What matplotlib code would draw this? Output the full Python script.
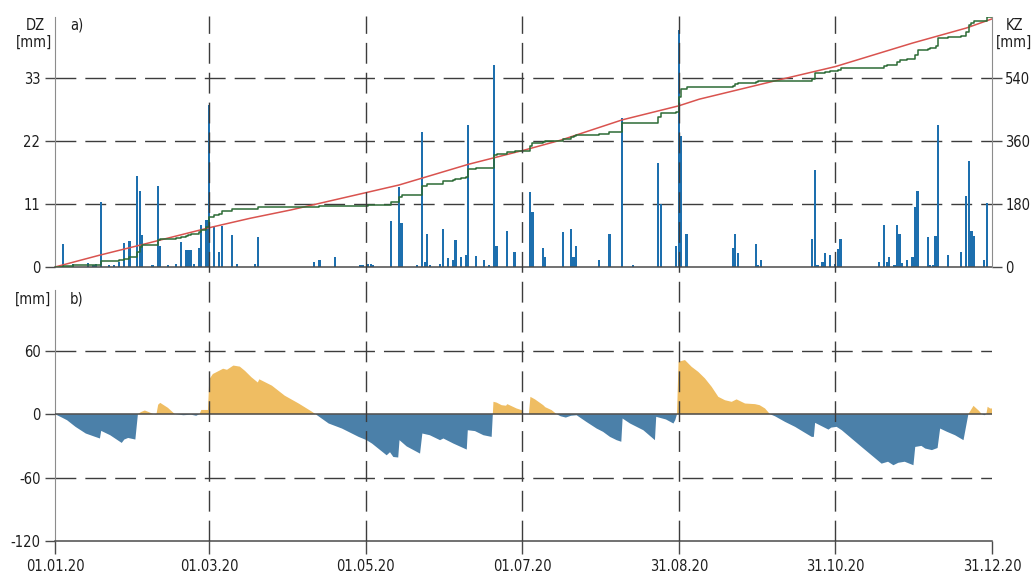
import numpy as np
import matplotlib
matplotlib.use("Agg")
import matplotlib.pyplot as plt
from matplotlib import font_manager
from matplotlib.lines import Line2D
from matplotlib.transforms import blended_transform_factory

# ---------------------------------------------------------------- data
# daily precipitation DZ (day of year, 0 = 01.01.2020) in mm
rain_day = [3, 7, 13, 15, 16, 18, 21, 23, 25, 27, 29, 32, 33, 34, 38, 40, 41, 44,
            47, 49, 51, 52, 53, 54, 56, 57, 59, 60,
            62, 64, 65, 69, 71, 78, 79,
            101, 103, 109, 119, 120, 122, 123, 124,
            131, 134, 135, 141, 143, 144, 145, 146, 150, 151, 153, 155, 156, 158,
            160, 161, 164, 167, 169, 171, 172, 176, 179,
            185, 186, 190, 191, 198, 201, 202, 203, 212, 216, 221, 225, 235, 236,
            242, 243, 244, 246,
            264, 265, 266, 273, 274, 275, 295, 296, 297, 299, 300, 302, 304, 305, 306,
            321, 323, 324, 325, 327, 328, 329, 330, 332, 334, 335, 336, 340, 341, 342,
            343, 344, 348, 353, 355, 356, 357, 358, 362, 363]
rain_mm = [4.0, 0.6, 0.7, 0.4, 0.6, 11.3, 0.3, 0.4, 0.9, 4.2, 4.6, 15.9, 13.2, 5.5, 0.3, 14.1, 3.7, 0.3,
           0.5, 4.3, 3.0, 3.0, 3.0, 0.5, 3.3, 7.3, 8.2, 28.3,
           6.9, 2.7, 7.2, 5.5, 0.5, 0.5, 5.2,
           0.8, 1.2, 1.8, 0.3, 0.3, 0.5, 0.6, 0.3,
           8.0, 14.0, 7.6, 0.4, 23.5, 0.9, 5.8, 0.3, 0.5, 6.7, 1.5, 1.2, 4.7, 1.8,
           2.1, 24.7, 1.9, 1.3, 0.3, 35.2, 3.6, 6.2, 2.7,
           13.0, 9.6, 3.4, 1.8, 6.1, 6.7, 1.8, 3.7, 1.2, 5.8, 25.9, 0.3, 18.1, 11.0,
           3.6, 41.4, 22.8, 5.8,
           3.4, 5.8, 2.4, 4.0, 0.3, 1.2, 4.9, 16.9, 0.3, 0.8, 2.4, 2.1, 0.6, 3.2, 4.8,
           0.8, 7.3, 0.8, 1.8, 0.3, 7.3, 5.8, 0.7, 1.2, 1.8, 10.5, 13.3, 5.2, 0.4, 0.4,
           5.4, 24.7, 2.1, 2.7, 12.3, 18.5, 6.2, 5.4, 1.2, 11.1]

# cumulative reference curve KZ (mm)
ref_day = [0, 17, 34, 60, 76, 92, 121, 134, 161, 183, 197, 221, 243, 251, 282, 304, 334, 355, 365]
ref_mm = [0, 33, 64, 112, 139, 163, 212, 234, 293, 334, 362, 420, 460, 479, 534, 572, 639, 682, 708]

# climatic water balance (mm)
bal_day = [0, 2.7, 4.7, 8, 12, 15.7, 17.5, 18, 21.5, 26, 27, 28.5, 31.3, 32.3,
           33.5, 35, 36.5, 38.4, 39.5, 40.2, 41, 44, 46.7, 48.5, 50, 53, 55, 56.3,
           57, 59.6, 60.1, 61.5, 65.5, 67, 69.5, 72, 74, 76.5, 79, 79.6, 84.5, 89.5,
           95, 100, 101.5,
           106.6, 111.8, 118.3, 121.4, 123.5, 129.2, 130.5, 131.8, 133.7, 134.2, 137,
           142.2, 143.1, 146, 150, 151.3, 155.2, 160.4, 160.8, 163.6, 166.9, 170.1,
           170.8, 172, 174, 175.7, 176.2, 179.8, 181.8, 182.7, 184.6, 185.2, 187,
           190.2, 191, 193.5, 195.4, 197, 199, 201, 203.2, 207, 211, 213.5, 216.2,
           218.8, 220.6, 221.1, 224, 229.2, 233.7, 234.2, 238, 240.9, 241.6, 242.3,
           242.9, 245.4, 248, 250.6, 253.2, 255.8, 258.4, 261, 263.6, 265.5, 268.8,
           272.7, 274.5, 276.6, 278.5, 280.5, 284.4, 288.3, 291.5, 294.8, 295.6,
           296.1, 298.7, 301.3, 302.4, 304.5, 306.5, 310.3, 314.2, 318.1, 322, 324.5,
           326.6, 328.5, 331, 334.4, 335.1, 337.5, 339, 341.6, 343.8, 344.8, 347.5,
           350.6, 353.9, 355.8, 357.8, 360, 361, 362, 362.8, 363.3, 364.3, 365]
bal_mm = [0, -3.2, -5.7, -12, -18.3, -21.5, -23, -15.8, -19.9, -27.2, -24, -22.5, -24, 0,
          2, 3.5, 2, 0, -0.3, 9, 10.7, 6, 0, -0.5, -1, -0.5, -1.5, 0,
          4, 4, 33, 38, 43, 42, 46, 45, 41, 35, 30, 33, 27, 17.5,
          10, 2.5, 0,
          -8.8, -13.6, -21.5, -24.6, -27.8, -38.9, -36, -40.5, -41, -24.6, -30.5,
          -37.3, -18.3, -19.9, -24.6, -23, -27.8, -33.5, -15.2, -16, -19.9, -21.5,
          11.7, 11, 8.5, 8, 9.5, 5.4, 3.8, 0, 0, 16.4, 14,
          8.5, 6.6, 3.8, 0, -2, -3.2, -1.5, -1, -7.3, -13.6, -16.7, -21.5,
          -24.6, -26.1, -4.1, -8.8, -15.2, -24.6, -2.5, -5, -8.8, -5.7, 0,
          49.6, 51.2, 44.8, 40, 33.8, 25.9, 16.4, 13.2, 11.7, 14, 10.1,
          9.5, 8.5, 5.4, 0, -2, -7.3, -12, -16.7, -21.5, -21.5,
          -8.2, -11.4, -14.6, -12.7, -12, -15.2, -23, -31, -38.9, -46.8, -45,
          -48.3, -46, -45, -48.3, -31, -30, -32.5, -34, -32, -13.6, -16.7,
          -19.9, -24.6, 0, 7.9, 3, 0, -1, 0, 7, 5.4, 5.4]

x_tick_days = [0, 60, 121, 182, 243, 304, 365]
x_tick_labels = ["01.01.20", "01.03.20", "01.05.20", "01.07.20", "31.08.20", "31.10.20", "31.12.20"]
month_lines = [60, 121, 182, 243, 304]
dz_ticks = [0, 11, 22, 33]
kz_ticks = [0, 180, 360, 540]
bal_ticks = [-120, -60, 0, 60]

# ---------------------------------------------------------------- style
# prefer a narrow sans face for the labels
fonts = font_manager.fontManager.ttflist
narrow = None
for name in ["Liberation Sans Narrow", "Arial Narrow"]:
    if any(f.name == name for f in fonts):
        narrow = name
        break
stretch = "normal"
if narrow is None:
    for name in ["DejaVu Sans", "Noto Sans", "Open Sans", "Roboto"]:
        if any(f.name == name and str(f.stretch) in ("condensed", "semi-condensed", "500", "600")
               and f.style == "normal" and str(f.weight) in ("400", "normal") for f in fonts):
            narrow = name
            stretch = "condensed"
            break
if narrow is None:
    base = "Liberation Sans"
    FS = 10.5
else:
    base = narrow
    FS = 12 if "Narrow" in narrow else 10.5
plt.rcParams["font.family"] = [base, "DejaVu Sans"]
plt.rcParams["font.stretch"] = stretch
plt.rcParams["axes.unicode_minus"] = False

BAR = "#1d6fae"
RED = "#d9534f"
GREEN = "#2c6b35"
POS = "#efbd62"
NEG = "#4b80a9"
GRID = "#3c3c3c"
SPINE_V = "#8c8c8c"
SPINE_H = "#4a4a4a"
TXT = "#1e1e1e"
DASH = (0, (15, 6.5))

W, H = 1032, 574
fig = plt.figure(figsize=(W / 100, H / 100), dpi=100)

def fx(px):
    return px / W

def fy(py):
    return 1 - py / H

L, R = 55, 992
ax_t = fig.add_axes([fx(L), fy(267), fx(R - L), (267 - 17) / H])
ax_b = fig.add_axes([fx(L), fy(541), fx(R - L), (541 - 290) / H])

# ---------------------------------------------------------------- panel a
days = np.arange(366)
daily = np.zeros(366)
daily[rain_day] = rain_mm
cum = np.cumsum(daily)

dz_top = 43.6
ax_t.set_xlim(0, 365)
ax_t.set_ylim(0, dz_top)
for v in dz_ticks[1:]:
    ax_t.axhline(v, color=GRID, lw=1.0, linestyle=DASH, zorder=1)
ax_t.bar(rain_day, rain_mm, width=0.85, color=BAR, lw=0, zorder=2)
ax_t.set_xticks([])
ax_t.set_yticks(dz_ticks)
ax_t.tick_params(axis="y", direction="out", length=7.5, width=1, color=SPINE_H,
                 labelsize=FS, labelcolor=TXT, pad=3)
ax_t.spines["top"].set_visible(False)
ax_t.spines["right"].set_visible(False)
ax_t.spines["left"].set_color(SPINE_V)
ax_t.spines["bottom"].set_color(SPINE_H)
ax_t.spines["bottom"].set_linewidth(1.1)

ax_k = ax_t.twinx()
ax_k.set_ylim(0, dz_top * 540 / 33)
ax_k.plot(ref_day, ref_mm, color=RED, lw=1.1, zorder=3)
ax_k.step(days, cum, where="post", color=GREEN, lw=1.1, zorder=4)
ax_k.set_yticks(kz_ticks)
ax_k.tick_params(axis="y", direction="out", length=7.5, width=1, color=SPINE_H,
                 labelsize=FS, labelcolor=TXT, pad=2)
for s in ["top", "left", "bottom"]:
    ax_k.spines[s].set_visible(False)
ax_k.spines["right"].set_color(SPINE_V)

fig.text(fx(35), fy(25), "DZ", ha="center", va="center", fontsize=FS, color=TXT)
fig.text(fx(34), fy(42), "[mm]", ha="center", va="center", fontsize=FS, color=TXT)
fig.text(fx(70), fy(25), "a)", ha="left", va="center", fontsize=FS, color=TXT)
fig.text(fx(1015), fy(25), "KZ", ha="center", va="center", fontsize=FS, color=TXT)
fig.text(fx(1014), fy(42), "[mm]", ha="center", va="center", fontsize=FS, color=TXT)

# ---------------------------------------------------------------- panel b
bd = np.array(bal_day)
bv = np.array(bal_mm)
ax_b.set_xlim(0, 365)
ax_b.set_ylim(-120, 117.5)
ax_b.fill_between(bd, bv, 0, where=bv >= 0, interpolate=True, color=POS, lw=0, zorder=2)
ax_b.fill_between(bd, bv, 0, where=bv <= 0, interpolate=True, color=NEG, lw=0, zorder=2)
ax_b.axhline(0, color=SPINE_H, lw=1.1, zorder=3)
for v in (60, -60):
    ax_b.axhline(v, color=GRID, lw=1.0, linestyle=DASH, zorder=1)
ax_b.set_yticks(bal_ticks)
ax_b.set_xticks(x_tick_days, x_tick_labels)
ax_b.tick_params(axis="y", direction="out", length=7.5, width=1, color=SPINE_H,
                 labelsize=FS, labelcolor=TXT, pad=3)
ax_b.tick_params(axis="x", direction="out", length=9, width=1, color=SPINE_H,
                 labelsize=FS, labelcolor=TXT, pad=4)
ax_b.spines["top"].set_visible(False)
ax_b.spines["right"].set_visible(False)
ax_b.spines["left"].set_color(SPINE_V)
ax_b.spines["bottom"].set_color(SPINE_H)
ax_b.spines["bottom"].set_linewidth(1.1)

fig.text(fx(33), fy(299), "[mm]", ha="center", va="center", fontsize=FS, color=TXT)
fig.text(fx(70), fy(299), "b)", ha="left", va="center", fontsize=FS, color=TXT)

# month separators running through both panels
trans = blended_transform_factory(ax_b.transData, fig.transFigure)
for d in month_lines:
    fig.add_artist(Line2D([d, d], [fy(541), fy(16)], transform=trans, color=GRID,
                          lw=1.0, linestyle=DASH, zorder=5))

fig.savefig("out.png", dpi=100)
